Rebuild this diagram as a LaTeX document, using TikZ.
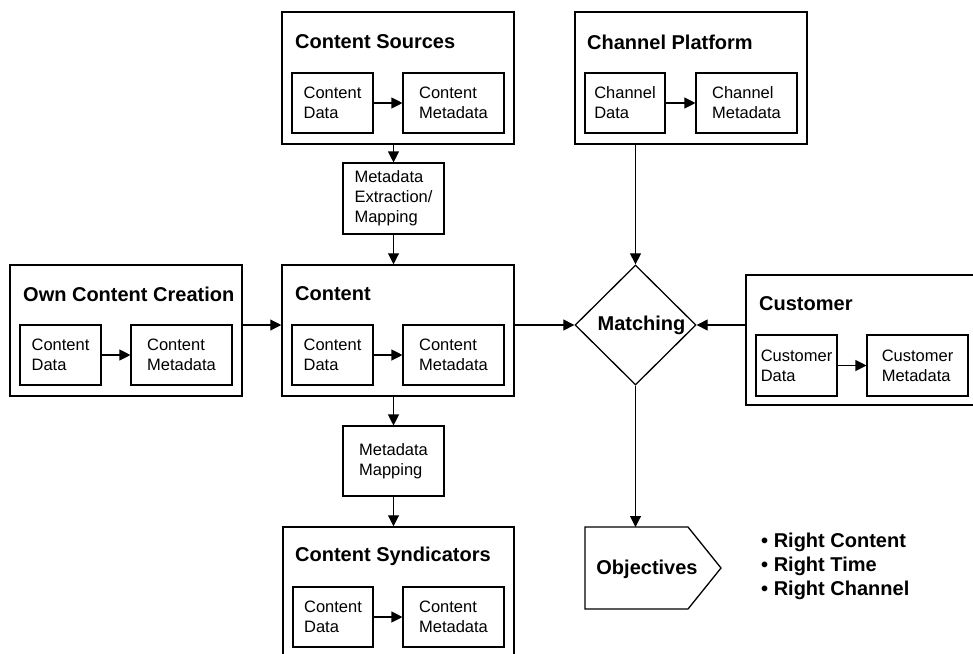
\documentclass[tikz,border=0pt]{standalone}
\usepackage{fontspec}
\setmainfont{Liberation Sans}
\usetikzlibrary{shapes.geometric,arrows.meta}
\begin{document}
\begin{tikzpicture}[x=1pt,y=-1pt,
  outerbox/.style={draw, line width=1.5pt, inner sep=0pt},
  innerbox/.style={draw, line width=1.1pt, minimum height=60, align=left, inner sep=0pt,
     font=\fontsize{16.5}{20}\selectfont},
  procbox/.style={draw, line width=1.1pt, align=left, inner sep=0pt, minimum width=101,
     font=\fontsize{16.5}{20}\selectfont},
  titletext/.style={anchor=west, inner sep=0pt, font=\fontsize{20}{24}\selectfont\bfseries},
  boldtext/.style={inner sep=0pt, font=\fontsize{20}{24}\selectfont\bfseries},
  conn/.style={line width=1.1pt, -{Triangle[length=11pt,width=11pt]}}
]
\useasboundingbox (0,0) rectangle (973,653);
\clip (0,0) rectangle (973,653);

% Content Sources
\node[outerbox, minimum width=232, minimum height=132] (cs) at (398,78) {};
\node[titletext] (cst) at (295,42) {Content Sources};
\node[innerbox, minimum width=81] (csd) at (332.5,103) {Content\\Data};
\node[innerbox, minimum width=101] (csm) at (453.5,103) {Content\\Metadata};

% Channel Platform
\node[outerbox, minimum width=232, minimum height=132] (cp) at (691,78) {};
\node[titletext] (cpt) at (587,42) {Channel Platform};
\node[innerbox, minimum width=80] (cpd) at (625,103) {Channel\\Data};
\node[innerbox, minimum width=101] (cpm) at (746.5,103) {Channel\\Metadata};

% Metadata Extraction
\node[procbox, minimum height=71] (mex) at (393.5,198.5) {Metadata\\Extraction/\\Mapping};

% Own Content Creation
\node[outerbox, minimum width=232, minimum height=131] (oc) at (126,330.5) {};
\node[titletext] (oct) at (23,294) {Own Content Creation};
\node[innerbox, minimum width=81] (ocd) at (60.5,355) {Content\\Data};
\node[innerbox, minimum width=101] (ocm) at (181.5,355) {Content\\Metadata};

% Content
\node[outerbox, minimum width=232, minimum height=131] (ct) at (398,330.5) {};
\node[titletext] (ctt) at (295,294) {Content};
\node[innerbox, minimum width=81] (ctd) at (332.5,355) {Content\\Data};
\node[innerbox, minimum width=101] (ctm) at (453.5,355) {Content\\Metadata};

% Matching
\node[diamond, draw, line width=1.3pt, minimum width=121, minimum height=120, inner sep=0pt] (match) at (635.5,325) {};
\node[boldtext] (matchlbl) at (641.5,325) {Matching};

% Customer
\node[outerbox, minimum width=250, minimum height=130] (cu) at (871,340) {};
\node[titletext] (cut) at (759,304) {Customer};
\node[innerbox, minimum width=81, minimum height=61] (cud) at (796.5,365.5) {Customer\\Data};
\node[innerbox, minimum width=101, minimum height=61] (cum) at (917.5,365.5) {Customer\\Metadata};

% Metadata Mapping
\node[procbox, minimum height=70] (mm) at (393.5,461) {Metadata\\Mapping};

% Content Syndicators
\node[outerbox, minimum width=231, minimum height=140] (sy) at (398.5,597) {};
\node[titletext] (syt) at (295,556) {Content Syndicators};
\node[innerbox, minimum width=80] (syd) at (333,617) {Content\\Data};
\node[innerbox, minimum width=101] (sym) at (453.5,617) {Content\\Metadata};

% Objectives
\coordinate (objtop) at (635.5,527);
\draw[line width=1.3pt, line join=miter] (585,527) -- (688,527) -- (721,568) -- (688,609) -- (585,609) -- cycle;
\node[boldtext] (obj) at (647,569) {Objectives};

% Bullets
\node[anchor=west, align=left, inner sep=0pt, font=\fontsize{20}{24}\selectfont\bfseries]
  (bul) at (761,566) {• Right Content\\• Right Time\\• Right Channel};

% inner arrows
\draw[conn] (csd) -- (csm);
\draw[conn] (cpd) -- (cpm);
\draw[conn] (ocd) -- (ocm);
\draw[conn] (ctd) -- (ctm);
\draw[conn] (cud) -- (cum);
\draw[conn] (syd) -- (sym);

% main arrows
\draw[conn] (mex.north |- cs.south) -- (mex.north);
\draw[conn] (mex.south) -- (mex.south |- ct.north);
\draw[conn] (mm.north |- ct.south) -- (mm.north);
\draw[conn] (mm.south) -- (mm.south |- sy.north);
\draw[conn] (oc.east |- match) -- (ct.west |- match);
\draw[conn] (ct.east |- match) -- (match.west);
\draw[conn] (cu.west |- match) -- (match.east);
\draw[conn] (match.north |- cp.south) -- (match.north);
\draw[conn] (match.south) -- (objtop);
\end{tikzpicture}
\end{document}
